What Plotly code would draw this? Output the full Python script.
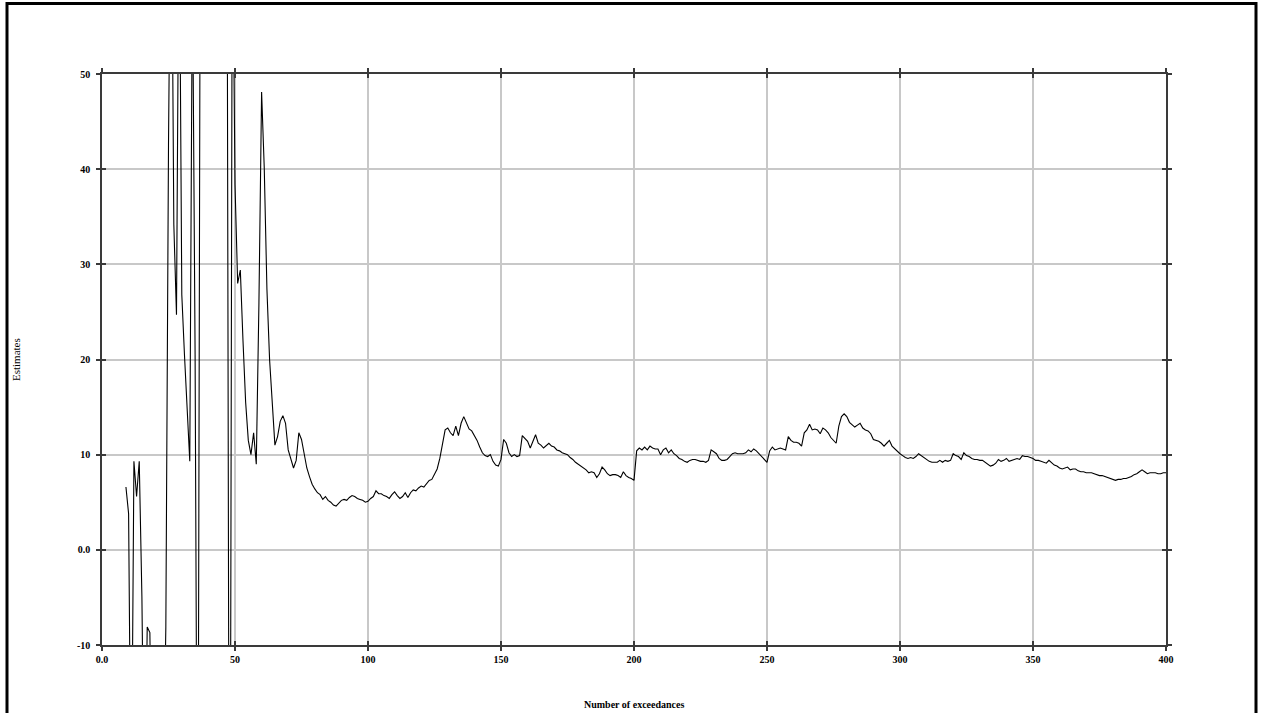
import plotly.graph_objects as go

# Number of exceedances (x) and estimates (y)
exceedances = list(range(9, 401))

est_09_49 = [6.6, 3.8, -30, 9.3, 5.6, 9.3, -4.9, -30, -8.1, -8.7,
             -30, -50, -70, -45, -25, -8.1, 42.5, 75, 34.2, 24.7,
             70, 26.8, 20.5, 14.5, 9.3, 62, 20.5, -45, 75, 110,
             140, 95, 120, 160, 130, 105, 90, 80, 70, -60, 70]
est_50_99 = [38.4, 28.0, 29.4, 22.0, 15.5, 11.5, 10.0, 12.3, 9.0, 26.0,
             48.1, 40.1, 27.4, 20.0, 15.3, 11.0, 11.9, 13.5, 14.1, 13.3,
             10.5, 9.6, 8.6, 9.4, 12.3, 11.6, 9.9, 8.6, 7.7, 6.9,
             6.4, 6.0, 5.8, 5.3, 5.6, 5.2, 5.0, 4.7, 4.6, 4.9,
             5.2, 5.3, 5.2, 5.5, 5.7, 5.6, 5.4, 5.3, 5.2, 5.0]
est_100_149 = [5.1, 5.4, 5.6, 6.2, 5.9, 5.9, 5.7, 5.6, 5.4, 5.8,
               6.1, 5.7, 5.4, 5.6, 6.0, 5.5, 6.0, 6.3, 6.2, 6.5,
               6.7, 6.6, 7.0, 7.3, 7.4, 7.9, 8.5, 9.6, 11.0, 12.6,
               12.8, 12.3, 12.0, 13.0, 12.0, 13.3, 14.0, 13.4, 12.7, 12.5,
               12.0, 11.5, 10.8, 10.2, 9.9, 9.8, 10.0, 9.3, 8.9, 8.8]
est_150_199 = [9.5, 11.6, 11.2, 10.2, 9.8, 10.0, 9.8, 9.9, 12.0, 11.7,
               11.4, 10.7, 11.4, 12.1, 11.2, 11.0, 10.7, 11.0, 11.2, 10.9,
               10.8, 10.5, 10.4, 10.2, 10.1, 10.0, 9.7, 9.5, 9.2, 9.0,
               8.8, 8.6, 8.4, 8.1, 8.2, 8.1, 7.6, 8.0, 8.7, 8.4,
               8.0, 7.8, 7.9, 7.9, 7.8, 7.6, 8.2, 7.8, 7.6, 7.5]
est_200_249 = [7.3, 10.4, 10.7, 10.5, 10.8, 10.5, 10.9, 10.7, 10.6, 10.6,
               10.0, 10.5, 10.7, 10.2, 10.5, 10.1, 9.9, 9.6, 9.5, 9.3,
               9.2, 9.4, 9.5, 9.5, 9.4, 9.3, 9.3, 9.2, 9.4, 10.5,
               10.3, 10.1, 9.6, 9.4, 9.4, 9.5, 9.8, 10.1, 10.2, 10.1,
               10.1, 10.1, 10.2, 10.5, 10.3, 10.6, 10.4, 10.1, 9.8, 9.6]
est_250_299 = [9.2, 10.4, 10.8, 10.5, 10.6, 10.7, 10.6, 10.5, 11.9, 11.5,
               11.3, 11.3, 11.2, 10.9, 12.3, 12.6, 13.2, 12.6, 12.7, 12.6,
               12.2, 12.8, 12.6, 12.3, 11.8, 11.5, 11.2, 13.0, 14.0, 14.3,
               14.0, 13.4, 13.1, 12.9, 13.1, 13.3, 12.8, 12.6, 12.5, 12.2,
               11.6, 11.5, 11.4, 11.2, 10.9, 11.2, 11.5, 10.9, 10.6, 10.4]
est_300_349 = [10.1, 9.9, 9.7, 9.6, 9.7, 9.6, 9.8, 10.1, 9.9, 9.7,
               9.5, 9.3, 9.2, 9.2, 9.2, 9.4, 9.2, 9.4, 9.3, 9.4,
               10.1, 9.9, 9.8, 9.5, 10.2, 9.9, 9.8, 9.6, 9.5, 9.5,
               9.4, 9.4, 9.2, 9.0, 8.8, 8.9, 9.1, 9.5, 9.3, 9.4,
               9.6, 9.3, 9.4, 9.5, 9.6, 9.5, 9.9, 9.8, 9.8, 9.7]
est_350_400 = [9.6, 9.4, 9.4, 9.3, 9.2, 9.1, 9.4, 9.1, 8.9, 8.8,
               8.6, 8.5, 8.6, 8.7, 8.4, 8.5, 8.5, 8.3, 8.2, 8.2,
               8.1, 8.1, 8.1, 8.0, 7.9, 7.8, 7.8, 7.7, 7.6, 7.5,
               7.4, 7.3, 7.4, 7.4, 7.5, 7.5, 7.6, 7.7, 7.9, 8.0,
               8.2, 8.4, 8.2, 8.0, 8.1, 8.1, 8.1, 8.0, 8.0, 8.1, 8.1]

estimates = (est_09_49 + est_50_99 + est_100_149 + est_150_199 +
             est_200_249 + est_250_299 + est_300_349 + est_350_400)
assert len(estimates) == len(exceedances), (len(estimates), len(exceedances))

x_tickvals = [0, 50, 100, 150, 200, 250, 300, 350, 400]
x_ticktext = ["0.0", "50", "100", "150", "200", "250", "300", "350", "400"]
y_tickvals = [-10, 0, 10, 20, 30, 40, 50]
y_ticktext = ["-10", "0.0", "10", "20", "30", "40", "50"]

W, H = 1261, 713
L, R, T, B = 102, 1166, 74, 645

tick_font = dict(family="Liberation Serif", size=10, color="black", weight="bold")

fig = go.Figure()
fig.add_trace(go.Scatter(x=exceedances, y=estimates, mode="lines",
                         line=dict(color="black", width=1.1),
                         showlegend=False, hoverinfo="skip"))
# invisible trace to activate overlay axes (inside half of crossing ticks)
fig.add_trace(go.Scatter(x=[0], y=[50], xaxis="x2", yaxis="y2", mode="markers",
                         marker=dict(opacity=0), showlegend=False, hoverinfo="skip"))

fig.update_layout(
    width=W, height=H,
    margin=dict(l=L, r=W - R, t=T, b=H - B),
    paper_bgcolor="white", plot_bgcolor="white",
    xaxis=dict(range=[0, 400], tickvals=x_tickvals, ticktext=x_ticktext,
               showgrid=True, gridcolor="#c8c8c8", gridwidth=1.5, zeroline=False,
               showline=True, linecolor="#3a3a3a", linewidth=1.5, mirror="ticks",
               ticks="outside", ticklen=4, tickwidth=1.5, tickcolor="#3a3a3a",
               tickfont=tick_font),
    yaxis=dict(range=[-10, 50], tickvals=y_tickvals, ticktext=y_ticktext,
               showgrid=True, gridcolor="#c8c8c8", gridwidth=1.5, zeroline=False,
               showline=True, linecolor="#3a3a3a", linewidth=1.5, mirror="ticks",
               ticks="outside", ticklen=4, tickwidth=1.5, tickcolor="#3a3a3a",
               tickfont=tick_font, ticklabelstandoff=4),
    xaxis2=dict(range=[0, 400], overlaying="x", tickvals=x_tickvals, showticklabels=False,
                showgrid=False, zeroline=False, ticks="inside", ticklen=4, tickwidth=1.5,
                tickcolor="#3a3a3a", mirror="ticks", showline=False),
    yaxis2=dict(range=[-10, 50], overlaying="y", tickvals=y_tickvals, showticklabels=False,
                showgrid=False, zeroline=False, ticks="inside", ticklen=4, tickwidth=1.5,
                tickcolor="#3a3a3a", mirror="ticks", showline=False),
)

pw, ph = R - L, B - T
def px_x(p):
    return (p - L) / pw
def px_y(p):
    return (B - p) / ph

# outer frame
fig.add_shape(type="rect", xref="paper", yref="paper",
              x0=px_x(7), x1=px_x(1256), y0=px_y(730), y1=px_y(3.5),
              line=dict(color="black", width=3), fillcolor="rgba(0,0,0,0)", layer="above")

fig.add_annotation(text="Estimates", xref="paper", yref="paper",
                   x=px_x(16), y=px_y(360), textangle=-90, showarrow=False,
                   xanchor="center", yanchor="middle",
                   font=dict(family="Liberation Serif", size=11, color="black"))
fig.add_annotation(text="Number of exceedances", xref="paper", yref="paper",
                   x=px_x(634), y=px_y(712), showarrow=False,
                   xanchor="center", yanchor="bottom",
                   font=dict(family="Liberation Serif", size=10, color="black", weight="bold"))

fig.write_html("out.html")
